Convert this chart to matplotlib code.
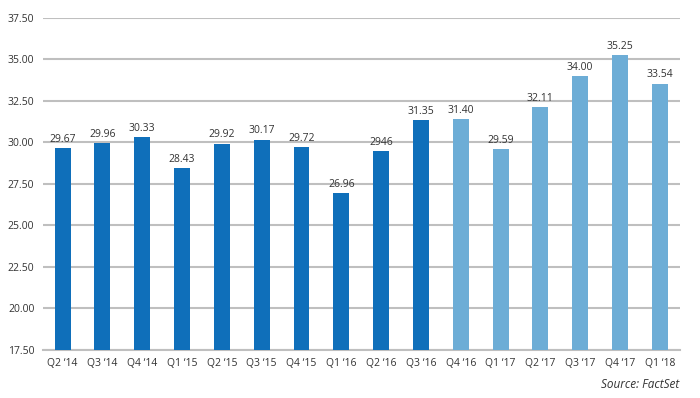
import matplotlib.pyplot as plt

quarters = ["Q2 \u201814", "Q3 \u201814", "Q4 \u201814", "Q1 \u201815", "Q2 \u201815", "Q3 \u201815",
            "Q4 \u201815", "Q1 \u201816", "Q2 \u201816", "Q3 \u201816", "Q4 \u201816", "Q1 \u201817",
            "Q2 \u201817", "Q3 \u201817", "Q4 \u201817", "Q1 \u201818"]
values = [29.67, 29.96, 30.33, 28.43, 29.92, 30.17, 29.72, 26.96, 29.46, 31.35,
          31.40, 29.59, 32.11, 34.00, 35.25, 33.54]
labels = ["29.67", "29.96", "30.33", "28.43", "29.92", "30.17", "29.72", "26.96", "2946", "31.35",
          "31.40", "29.59", "32.11", "34.00", "35.25", "33.54"]
n_actual = 10

plt.rcParams['font.family'] = ['Open Sans', 'DejaVu Sans']

fig = plt.figure(figsize=(7, 3.98), dpi=100)
ax = fig.add_axes([0.061, 0.121, 0.91, 0.834])

colors = ["#0F6FBA" if i < n_actual else "#6DADD6" for i in range(len(values))]
x = range(len(values))
ax.bar(x, [v - 17.5 for v in values], bottom=17.5, width=0.4, color=colors, zorder=3)

for i, (v, lab) in enumerate(zip(values, labels)):
    ax.text(i, v + 0.2, lab, ha="center", va="bottom", fontsize=7.5, color="#333333")

ax.set_ylim(17.5, 37.5)
ax.set_xlim(-0.5, len(values) - 0.5)
yt = [17.5 + 2.5 * k for k in range(9)]
ax.set_yticks(yt)
ax.set_yticklabels(["%.2f" % t for t in yt], fontsize=7.5, color="#333333")
ax.set_xticks(list(x))
ax.set_xticklabels(quarters, fontsize=7.5, color="#333333")
ax.yaxis.grid(True, color="#BFBFBF", linewidth=1.5, zorder=0)
ax.tick_params(length=0, pad=6)
for s in ["top", "right", "left"]:
    ax.spines[s].set_visible(False)
ax.spines["bottom"].set_color("#BFBFBF")
ax.spines["bottom"].set_linewidth(1.5)

fig.text(0.971, 0.035, "Source: FactSet", ha="right", va="center", fontsize=8.5,
         style="italic", color="#333333")

fig.savefig("out.png", dpi=100)
